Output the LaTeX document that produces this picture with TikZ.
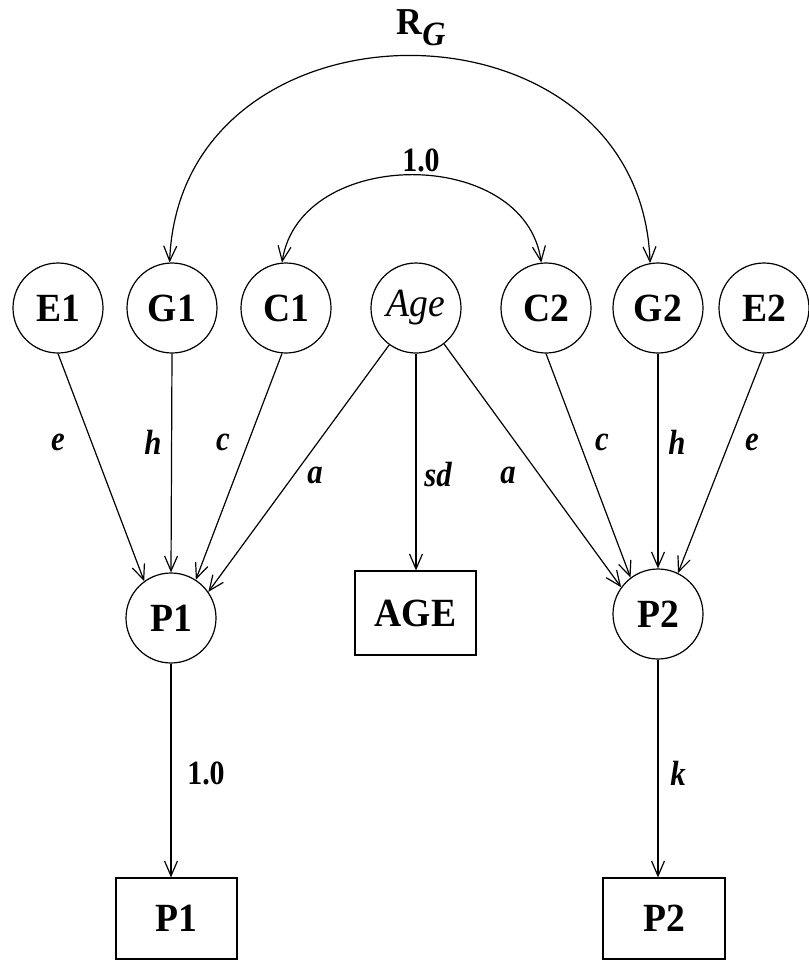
\documentclass[tikz,border=0pt]{standalone}
\usepackage{fontspec}
\setmainfont{Liberation Serif}
\newfontfamily\nodefont[FakeStretch=0.94]{Liberation Serif}
\newfontfamily\labfont[FakeStretch=0.88]{Liberation Serif}
\usetikzlibrary{arrows.meta}
\begin{document}
\begin{tikzpicture}[x=1pt,y=-1pt,
  lat/.style={circle,draw,line width=1.2pt,minimum size=90pt,inner sep=0pt,font=\nodefont\fontsize{40}{42}\selectfont\bfseries},
  obs/.style={rectangle,draw,line width=1.2pt,inner sep=0pt,font=\nodefont\fontsize{40}{42}\selectfont\bfseries},
  arr/.style={line width=1.2pt,-{Straight Barb[length=15pt,width=13pt]}},
  darr/.style={line width=1.2pt,{Straight Barb[length=15pt,width=13pt]}-{Straight Barb[length=15pt,width=13pt]}},
  lab/.style={font=\labfont\fontsize{35}{37}\selectfont\bfseries\itshape,inner sep=0pt},
  num/.style={font=\labfont\fontsize{34}{36}\selectfont\bfseries,inner sep=0pt}]
\useasboundingbox (0,0) rectangle (809,962);

% latent variables
\node[lat] (E1) at (58,308) {E1};
\node[lat] (G1) at (172,308) {G1};
\node[lat] (C1) at (286,308) {C1};
\node[lat,font=\nodefont\fontsize{40}{42}\selectfont\itshape] (Age) at (416,308) {Age};
\node[lat] (C2) at (546,308) {C2};
\node[lat] (G2) at (658,308) {G2};
\node[lat] (E2) at (764,308) {E2};
\node[lat] (P1) at (171,618) {P1};
\node[lat] (P2) at (658,614) {P2};

% observed
\node[obs,minimum width=121pt,minimum height=84pt] (AGEbox) at (415.5,613) {AGE};
\node[obs,minimum width=121pt,minimum height=81pt] (P1box) at (176.5,918.5) {P1};
\node[obs,minimum width=122pt,minimum height=81pt] (P2box) at (664,918.5) {P2};

% correlations
\draw[darr] (G1.93) .. controls (180,-13) and (640,-13) .. (G2.100);
\draw[darr] (C1.95) .. controls (300,146) and (525,146) .. (C2.96);
\node (RG) at (421,28) {\nodefont\fontsize{38}{40}\selectfont\bfseries R\raisebox{-11pt}{\fontsize{34}{36}\selectfont\itshape G}};
\node[num] (one) at (421,160) {1.0};

% paths to P1
\draw[arr] (E1.south) -- (P1.126);
\draw[arr] (G1.south) -- (P1.90);
\draw[arr] (C1.265) -- (P1.57);
\draw[arr] (Age.234) -- (P1.35);
% paths to P2
\draw[arr] (Age.308) -- (P2.144);
\draw[arr] (C2.south) -- (P2.127);
\draw[arr] (G2.south) -- (P2.90);
\draw[arr] (E2.south) -- (P2.64);
% age
\draw[arr] (Age.south) -- (Age.south |- AGEbox.north);
% measurement
\draw[arr] (P1.south) -- (P1.south |- P1box.north);
\draw[arr] (P2.south) -- (P2.south |- P2box.north);

% labels
\node[lab] (le1) at (58,442) {e};
\node[lab] (lh1) at (153,442) {h};
\node[lab] (lc1) at (223,442) {c};
\node[lab] (la1) at (315,475) {a};
\node[lab] (lsd) at (438,475) {sd};
\node[lab] (la2) at (508,475) {a};
\node[lab] (lc2) at (602,442) {c};
\node[lab] (lh2) at (677,442) {h};
\node[lab] (le2) at (752,442) {e};
\node[num] (l10) at (206,773) {1.0};
\node[lab] (lk) at (678,773) {k};
\end{tikzpicture}
\end{document}
